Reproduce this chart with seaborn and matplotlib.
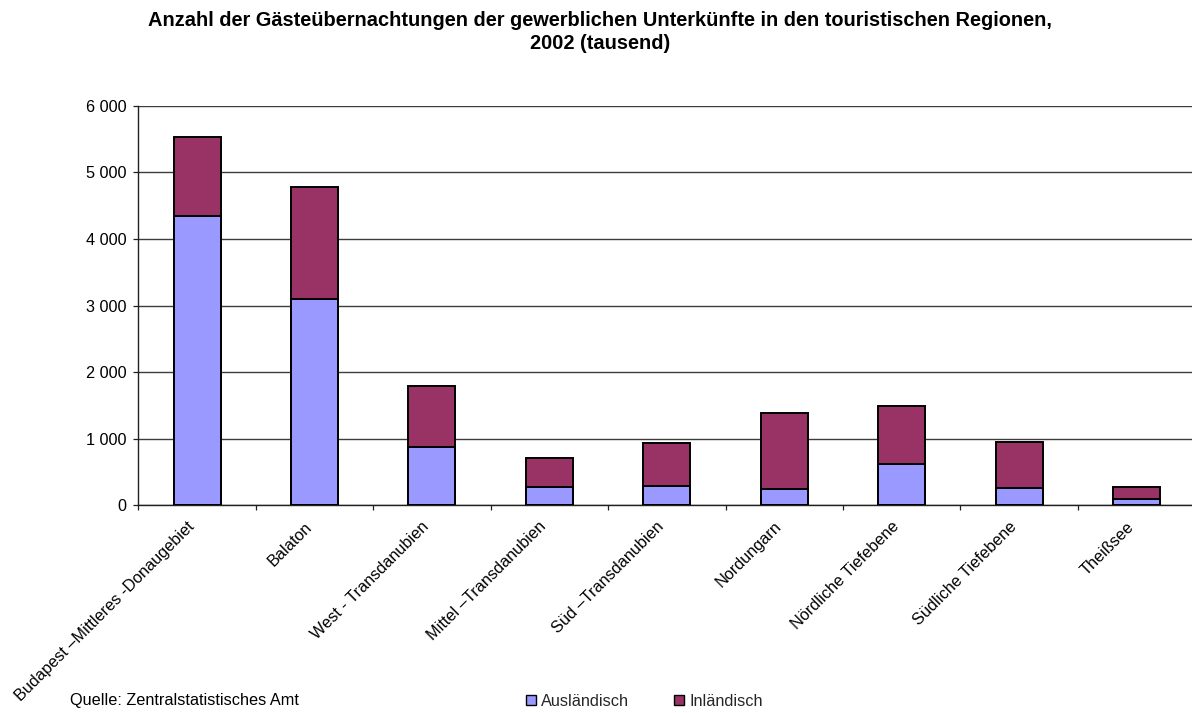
import matplotlib
matplotlib.use("Agg")
import matplotlib.pyplot as plt
from matplotlib.patches import Patch
from matplotlib.ticker import FuncFormatter, FixedLocator
import numpy as np
import seaborn as sns

# Overnight stays in commercial accommodation by tourist region, 2002 (thousands)
regions = [
    "Budapest –Mittleres -Donaugebiet",
    "Balaton",
    "West - Transdanubien",
    "Mittel –Transdanubien",
    "Süd –Transdanubien",
    "Nordungarn",
    "Nördliche Tiefebene",
    "Südliche Tiefebene",
    "Theißsee",
]
auslaendisch = [4340, 3100, 880, 280, 290, 250, 620, 260, 95]
inlaendisch = [1195, 1685, 916, 435, 645, 1130, 866, 686, 175]
y_ticks = [0, 1000, 2000, 3000, 4000, 5000, 6000]

title = ("Anzahl der Gästeübernachtungen der gewerblichen Unterkünfte in den touristischen Regionen,\n"
         "2002 (tausend)")
source = "Quelle: Zentralstatistisches Amt"
series_names = ["Ausländisch", "Inländisch"]

col_aus = "#9999FF"
col_inl = "#993366"

sns.set_theme(style="white")
plt.rcParams["font.family"] = ["Liberation Sans", "DejaVu Sans"]

W, H, DPI = 1192, 713, 100
fig = plt.figure(figsize=(W / DPI, H / DPI), dpi=DPI)
fig.patch.set_facecolor("white")

# plot area in pixels
x0, x1 = 138.3, 1195.4
y_top, y_bot = 105.7, 505.3
ax = fig.add_axes([x0 / W, 1 - y_bot / H, (x1 - x0) / W, (y_bot - y_top) / H])

totals = np.array(auslaendisch) + np.array(inlaendisch)

sns.barplot(x=regions, y=totals, color=col_inl, saturation=1, width=0.4,
            edgecolor="black", linewidth=1.4, ax=ax, zorder=3)
sns.barplot(x=regions, y=auslaendisch, color=col_aus, saturation=1, width=0.4,
            edgecolor="black", linewidth=1.4, ax=ax, zorder=4)

ax.set_xlim(-0.5, len(regions) - 0.5)
ax.set_ylim(0, 6000)
ax.set_xlabel("")
ax.set_ylabel("")

# horizontal gridlines
ax.yaxis.set_major_locator(FixedLocator(y_ticks))
ax.yaxis.set_major_formatter(FuncFormatter(lambda v, p: f"{int(v):,}".replace(",", " ")))
ax.grid(axis="y", color="#3c3c3c", linewidth=1.0, zorder=0)
ax.grid(axis="x", visible=False)
ax.set_axisbelow(True)

for s in ["top", "right"]:
    ax.spines[s].set_visible(False)
for s in ["left", "bottom"]:
    ax.spines[s].set_color("#202020")
    ax.spines[s].set_linewidth(1.0)

ax.tick_params(axis="y", which="major", direction="out", length=3.6, width=0.9,
               color="#202020", pad=5, labelsize=11.7, labelcolor="black", left=True)

# category labels at centres, tick marks at category boundaries
ax.set_xticks(range(len(regions)))
ax.set_xticklabels(regions, rotation=45, ha="right", va="bottom", rotation_mode="anchor")
ax.tick_params(axis="x", which="major", length=0, pad=17.5, labelsize=11.7, labelcolor="black")
ax.set_xticks(np.arange(-0.5, len(regions), 1.0), minor=True)
ax.tick_params(axis="x", which="minor", direction="out", length=3.6, width=0.9,
               color="#202020", bottom=True)

fig.text(600 / W, 1 - 11 / H, title, ha="center", va="top", fontsize=14.4,
         fontweight="bold", linespacing=1.25, color="black")

fig.text(70 / W, 1 - 701 / H, source, ha="left", va="center", fontsize=11.7, color="black")

handles = [
    Patch(facecolor=col_aus, edgecolor="black", linewidth=1.0, label=series_names[0]),
    Patch(facecolor=col_inl, edgecolor="black", linewidth=1.0, label=series_names[1]),
]
fig.legend(handles=handles, loc="center left", bbox_to_anchor=(525.7 / W, 1 - 701 / H),
           ncol=2, frameon=False, fontsize=11.7, handlelength=0.62, handleheight=0.62,
           handletextpad=0.3, columnspacing=2.8, borderpad=0, borderaxespad=0)

fig.savefig("out.png", dpi=DPI, facecolor="white")
